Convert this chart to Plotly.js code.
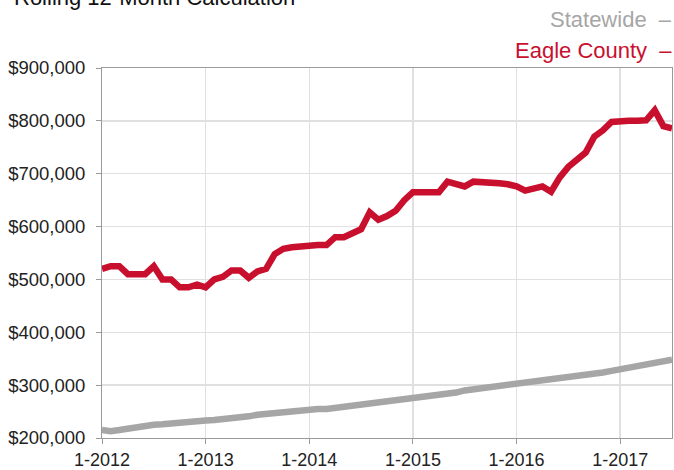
<!DOCTYPE html>
<html>
<head>
<meta charset="utf-8">
<script src="https://cdn.plot.ly/plotly-3.0.1.min.js"></script>
<style>html,body{margin:0;padding:0;background:#fff;}#chart{width:674px;height:470px;}</style>
</head>
<body>
<div id="chart"></div>
<script>
var months = [
  "1-2012","2-2012","3-2012","4-2012","5-2012","6-2012","7-2012","8-2012","9-2012","10-2012","11-2012","12-2012",
  "1-2013","2-2013","3-2013","4-2013","5-2013","6-2013","7-2013","8-2013","9-2013","10-2013","11-2013","12-2013",
  "1-2014","2-2014","3-2014","4-2014","5-2014","6-2014","7-2014","8-2014","9-2014","10-2014","11-2014","12-2014",
  "1-2015","2-2015","3-2015","4-2015","5-2015","6-2015","7-2015","8-2015","9-2015","10-2015","11-2015","12-2015",
  "1-2016","2-2016","3-2016","4-2016","5-2016","6-2016","7-2016","8-2016","9-2016","10-2016","11-2016","12-2016",
  "1-2017","2-2017","3-2017","4-2017","5-2017","6-2017","7-2017"
];
var eagleCounty = [
  520000,525000,525000,510000,510000,510000,525000,500000,500000,485000,485000,490000,
  485000,500000,505000,517000,517000,503000,515000,520000,548000,558000,561000,563000,
  565000,565000,565000,580000,580000,587000,595000,627000,613000,620000,630000,650000,
  665000,665000,665000,665000,685000,680000,676000,685000,685000,682000,682000,680000,
  676000,668000,671000,676000,666000,693000,713000,725000,740000,770000,782000,798000,
  800000,800000,800000,801000,820000,790000,786000
];
var statewide = [
  215000,213000,215000,218000,220000,221000,225000,226000,228000,229000,230000,231000,
  233000,234000,235000,237000,239000,241000,244000,246000,248000,249000,250000,252000,
  254000,255000,255000,257000,258000,260000,262000,264000,265000,267000,269000,271000,
  274000,275000,277000,280000,282000,286000,290000,292000,294000,297000,299000,300000,
  302000,304000,305000,307000,309000,311000,314000,316000,319000,322000,324000,327000,
  330000,332000,334000,337000,340000,344000,348000
];
var xTicks = ["1-2012","1-2013","1-2014","1-2015","1-2016","1-2017"];
var yTicks = [200000,300000,400000,500000,600000,700000,800000,900000];
var yTickText = ["$200,000","$300,000","$400,000","$500,000","$600,000","$700,000","$800,000","$900,000"];
var chartTitle = "Rolling 12-Month Calculation";
var seriesNames = ["Statewide","Eagle County"];

var RED = "#C8102E", GRAY = "#A6A6A6";
var FONT = "Liberation Sans, Arial, Helvetica, sans-serif";

var traces = [
  {x: months, y: statewide, name: seriesNames[0], type: "scatter", mode: "lines",
   line: {color: GRAY, width: 6.5}, hoverinfo: "skip"},
  {x: months, y: eagleCounty, name: seriesNames[1], type: "scatter", mode: "lines",
   line: {color: RED, width: 6.5}, hoverinfo: "skip"}
];

var layout = {
  width: 674, height: 470,
  margin: {l: 102, r: 2, t: 68, b: 32},
  paper_bgcolor: "#fff", plot_bgcolor: "#fff",
  showlegend: false,
  font: {family: FONT, size: 18, color: "#222"},
  xaxis: {
    type: "category", range: [0, months.length - 1],
    tickmode: "array", tickvals: xTicks, ticktext: xTicks,
    showgrid: true, gridcolor: "#e0e0e0", gridwidth: 1.5,
    showline: true, linecolor: "#9a9a9a", linewidth: 1, mirror: true,
    ticks: "outside", ticklen: 5, tickcolor: "#9a9a9a",
    tickfont: {family: FONT, size: 18, color: "#222"},
    zeroline: false, fixedrange: true
  },
  yaxis: {
    range: [200000, 900000],
    tickmode: "array", tickvals: yTicks, ticktext: yTickText,
    showgrid: true, gridcolor: "#e0e0e0", gridwidth: 1.5,
    showline: true, linecolor: "#9a9a9a", linewidth: 1, mirror: true,
    ticks: "outside", ticklen: 5, tickcolor: "#9a9a9a",
    ticklabelstandoff: 7,
    tickfont: {family: FONT, size: 18.5, color: "#222"},
    zeroline: false, fixedrange: true
  },
  annotations: [
    {text: chartTitle, xref: "paper", yref: "paper", x: -0.158, y: 1.19,
     xanchor: "left", yanchor: "middle", showarrow: false,
     font: {family: FONT, size: 22, color: "#111"}},
    {text: seriesNames[0] + "\u00a0\u00a0\u2013", xref: "paper", yref: "paper", x: 1.0035, y: 1.132,
     xanchor: "right", yanchor: "middle", showarrow: false,
     font: {family: FONT, size: 22, color: GRAY}},
    {text: seriesNames[1] + "\u00a0\u00a0\u2013", xref: "paper", yref: "paper", x: 1.0035, y: 1.046,
     xanchor: "right", yanchor: "middle", showarrow: false,
     font: {family: FONT, size: 22, color: RED}}
  ]
};

Plotly.newPlot("chart", traces, layout, {displayModeBar: false, staticPlot: true});
</script>
</body>
</html>
